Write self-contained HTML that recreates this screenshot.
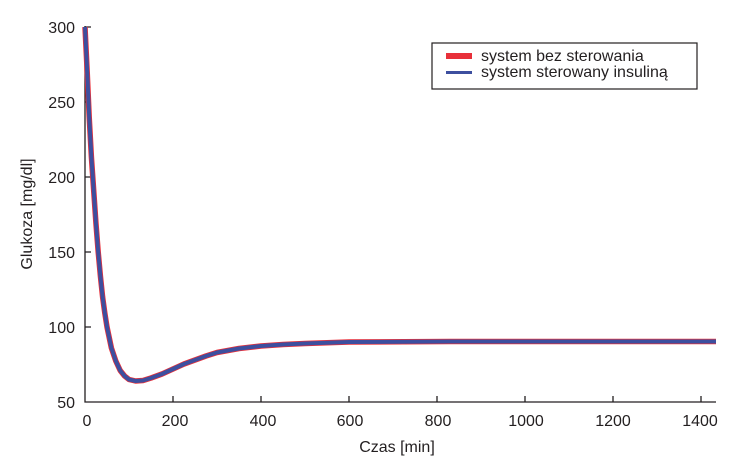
<!DOCTYPE html>
<html><head><meta charset="utf-8"><style>
body{margin:0;background:#fff;}
svg text{font-family:"Liberation Sans",sans-serif;fill:#231f20;}
</style></head><body>
<svg width="740" height="464" viewBox="0 0 740 464" xmlns="http://www.w3.org/2000/svg">
<g stroke="#231f20" stroke-width="1.3" fill="none">
<path d="M85,26V402H716"/>
<path d="M85,327h6M85,252h6M85,177h6M85,102h6M85,27h6"/>
<path d="M173,402v-6M261,402v-6M349,402v-6M437,402v-6M525,402v-6M613,402v-6M701,402v-6"/>
</g>
<g font-size="16" text-anchor="end">
<text x="75" y="408">50</text><text x="75" y="333">100</text><text x="75" y="258">150</text>
<text x="75" y="183">200</text><text x="75" y="108">250</text><text x="75" y="33">300</text>
</g>
<g font-size="16" text-anchor="middle">
<text x="87" y="426">0</text><text x="175" y="426">200</text><text x="263" y="426">400</text>
<text x="350" y="426">600</text><text x="438" y="426">800</text><text x="526" y="426">1000</text>
<text x="613" y="426">1200</text><text x="700" y="426">1400</text>
<text x="397" y="452">Czas [min]</text>
</g>
<text font-size="16" text-anchor="middle" transform="translate(32,214) rotate(-90)">Glukoza [mg/dl]</text>
<g fill="none" stroke-linejoin="round" stroke-linecap="butt">
<path d="M85,27 L87.2,72 L89.2,117 L91.4,157 L93.8,192 L96,224 L98.2,252 L100.4,276 L102.6,297 L104.8,313 L107,327 L111.4,348 L115.8,361 L120.2,370.5 L124.6,376 L129,379.5 L135.6,381 L143,380.5 L151,378 L162,374 L173,369 L184,364 L195,360 L206,356 L217,352.5 L239,348.5 L261,346 L283,344.5 L305,343.5 L349,342 L450,341.5 L716,341.5" stroke="#e8303a" stroke-width="5.5"/>
<path d="M85,27 L87.2,72 L89.2,117 L91.4,157 L93.8,192 L96,224 L98.2,252 L100.4,276 L102.6,297 L104.8,313 L107,327 L111.4,348 L115.8,361 L120.2,370.5 L124.6,376 L129,379.5 L135.6,381 L143,380.5 L151,378 L162,374 L173,369 L184,364 L195,360 L206,356 L217,352.5 L239,348.5 L261,346 L283,344.5 L305,343.5 L349,342 L450,341.5 L716,341.5" stroke="#3d4f9f" stroke-width="4"/>
</g>
<rect x="432" y="43" width="265" height="46" fill="#fff" stroke="#231f20" stroke-width="1.2"/>
<rect x="446" y="53" width="26" height="6" fill="#e8303a"/>
<rect x="446" y="71" width="26" height="3" fill="#3d4f9f"/>
<text x="481" y="61" font-size="16">system bez sterowania</text>
<text x="481" y="77" font-size="16">system sterowany insuliną</text>
</svg>
</body></html>
